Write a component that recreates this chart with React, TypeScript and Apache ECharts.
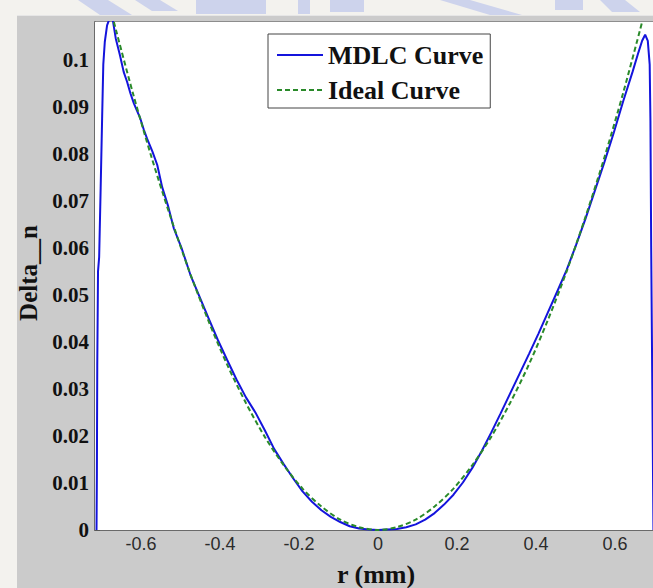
import React, { useEffect, useRef } from "react";
import * as echarts from "echarts";

// ---- data ----
const xTickValues = [-0.6, -0.4, -0.2, 0, 0.2, 0.4, 0.6];

const mdlcR = [
  -0.746, -0.745, -0.744, -0.742, -0.739, -0.735, -0.731, -0.728, -0.724, -0.718,
  -0.711, -0.703, -0.695, -0.684, -0.674, -0.665, -0.656, -0.647, -0.638, -0.63,
  -0.621, -0.612, -0.598, -0.585, -0.572, -0.556, -0.541, -0.52, -0.497, -0.475,
  -0.45, -0.425, -0.4, -0.375, -0.35, -0.325, -0.3, -0.275, -0.25, -0.225,
  -0.2, -0.175, -0.15, -0.125, -0.1, -0.075, -0.05, -0.025, 0, 0.025,
  0.05, 0.075, 0.1, 0.125, 0.15, 0.175, 0.2, 0.225, 0.25, 0.275,
  0.3, 0.325, 0.35, 0.375, 0.4, 0.425, 0.45, 0.475, 0.5, 0.525,
  0.55, 0.575, 0.6, 0.625, 0.65, 0.675, 0.69, 0.7, 0.708, 0.715,
  0.72, 0.722, 0.724, 0.727, 0.73,
];
const mdlcDelta = [
  0, 0.012, 0.035, 0.055, 0.058, 0.0727, 0.088, 0.099, 0.1038, 0.1073,
  0.1088, 0.1085, 0.1045, 0.101, 0.0974, 0.0953, 0.0928, 0.0907, 0.089, 0.0875,
  0.0852, 0.0832, 0.0805, 0.0776, 0.0729, 0.0688, 0.0641, 0.0598, 0.0542, 0.05,
  0.0452, 0.0405, 0.0362, 0.032, 0.0282, 0.025, 0.0212, 0.0172, 0.014, 0.011,
  0.0082, 0.006, 0.0042, 0.0028, 0.0017, 0.0008, 0.0003, 0.0001, 0, 0.0001,
  0.0002, 0.0006, 0.0012, 0.0022, 0.0036, 0.0054, 0.0075, 0.0101, 0.0132, 0.0168,
  0.0207, 0.0248, 0.029, 0.0332, 0.0374, 0.0417, 0.0462, 0.0507, 0.0553, 0.0606,
  0.0662, 0.0722, 0.0782, 0.0845, 0.0912, 0.0975, 0.1015, 0.104, 0.1053, 0.104,
  0.099, 0.087, 0.06, 0.03, 0,
];

const idealR = [
  -0.7, -0.65, -0.6, -0.55, -0.5, -0.45, -0.4, -0.35, -0.3, -0.25,
  -0.2, -0.15, -0.1, -0.05, 0, 0.05, 0.1, 0.15, 0.2, 0.25,
  0.3, 0.35, 0.4, 0.45, 0.5, 0.55, 0.6, 0.65, 0.7,
];
const idealDelta = [
  0.108, 0.093, 0.0792, 0.0666, 0.055, 0.0446, 0.0352, 0.027, 0.0198, 0.0138,
  0.0088, 0.005, 0.0022, 0.0006, 0, 0.0006, 0.0022, 0.005, 0.0088, 0.0138,
  0.0198, 0.027, 0.0352, 0.0446, 0.055, 0.0666, 0.0792, 0.093, 0.108,
];

const seriesNames = ["MDLC Curve", "Ideal Curve"];
const xAxisTitle = "r (mm)";
const yAxisTitle = "Delta__n";

const serif = '"Liberation Serif", "Times New Roman", serif';
const sans = '"Liberation Sans", Arial, sans-serif';

export default function App() {
  const ref = useRef<HTMLDivElement>(null);

  useEffect(() => {
    if (!ref.current) return;
    const chart = echarts.init(ref.current, undefined, { renderer: "svg" });

    const mdlcData = mdlcR.map((r, i) => [r, mdlcDelta[i]]);
    const idealData = idealR.map((r, i) => [r, idealDelta[i]]);

    const wm = "#cdd3ec";
    const option: any = {
      animation: false,
      backgroundColor: "#f3f2ee",
      grid: {
        left: 95,
        top: 22,
        width: 566,
        height: 508,
        outerBoundsMode: "none",
        containLabel: false,
        show: true,
        backgroundColor: "#ffffff",
        borderWidth: 0,
        z: 1,
      },
      graphic: [
        { type: "rect", z: -20, shape: { x: 17, y: 15, width: 660, height: 600 }, style: { fill: "#cbcbcb" } },
        { type: "line", z: -19, shape: { x1: 17, y1: 15.5, x2: 653, y2: 15.5 }, style: { stroke: "#e6e6e6", lineWidth: 1 } },
        { type: "polygon", z: -18, shape: { points: [[78, 0], [108, 0], [132, 15], [100, 15]] }, style: { fill: wm } },
        { type: "polygon", z: -18, shape: { points: [[135, 0], [160, 0], [178, 11], [152, 11]] }, style: { fill: wm } },
        { type: "rect", z: -18, shape: { x: 196, y: 0, width: 70, height: 14 }, style: { fill: wm } },
        { type: "rect", z: -18, shape: { x: 298, y: 0, width: 12, height: 14 }, style: { fill: wm } },
        { type: "rect", z: -18, shape: { x: 330, y: 0, width: 34, height: 12 }, style: { fill: wm } },
        { type: "polygon", z: -18, shape: { points: [[440, 0], [470, 0], [522, 15], [490, 15]] }, style: { fill: wm } },
        { type: "rect", z: -18, shape: { x: 555, y: 0, width: 28, height: 10 }, style: { fill: wm } },
        { type: "polygon", z: -18, shape: { points: [[600, 0], [625, 0], [640, 12], [612, 12]] }, style: { fill: wm } },
        {
          type: "text",
          z: 10,
          x: 28,
          y: 273,
          rotation: Math.PI / 2,
          style: {
            text: yAxisTitle,
            fill: "#111",
            font: `bold 25px ${serif}`,
            textAlign: "center",
            textVerticalAlign: "middle",
          },
        },
        {
          type: "text",
          z: 10,
          x: 376,
          y: 574,
          style: {
            text: xAxisTitle,
            fill: "#111",
            font: `bold 26px ${serif}`,
            textAlign: "center",
            textVerticalAlign: "middle",
          },
        },
      ],
      legend: {
        data: seriesNames,
        orient: "vertical",
        left: 268,
        top: 34,
        padding: [8, 7, 5, 8],
        itemWidth: 46,
        itemHeight: 14,
        itemGap: 9,
        itemStyle: { opacity: 0 },
        backgroundColor: "#ffffff",
        borderColor: "#444444",
        borderWidth: 1,
        textStyle: { fontFamily: serif, fontWeight: "bold", fontSize: 26, color: "#111" },
      },
      xAxis: [
        {
          type: "value",
          min: -0.75,
          max: 0.75,
          position: "bottom",
          axisLine: { show: true, onZero: false, lineStyle: { color: "#6a6a6a", width: 2 } },
          axisTick: { show: true, inside: true, length: 5, customValues: xTickValues, lineStyle: { color: "#555", width: 1.5 } },
          axisLabel: { show: false },
          splitLine: { show: false },
        },
        {
          type: "value",
          min: -0.75,
          max: 0.75,
          position: "top",
          axisLine: { show: true, onZero: false, lineStyle: { color: "#7a7a7a", width: 1.5 } },
          axisTick: { show: true, inside: true, length: 5, customValues: xTickValues, lineStyle: { color: "#555", width: 1.5 } },
          axisLabel: { show: false },
          splitLine: { show: false },
        },
        {
          type: "value",
          min: -0.7165,
          max: 0.7165,
          position: "bottom",
          axisLine: { show: false, onZero: false },
          axisTick: { show: false },
          splitLine: { show: false },
          axisLabel: {
            show: true,
            customValues: xTickValues,
            margin: 5,
            fontFamily: sans,
            fontSize: 18,
            color: "#2b2b2b",
            formatter: (v: number) => String(+v.toFixed(1)),
          },
        },
      ],
      yAxis: [
        {
          type: "value",
          min: 0,
          max: 0.108,
          interval: 0.01,
          position: "left",
          axisLine: { show: true, onZero: false, lineStyle: { color: "#6a6a6a", width: 2 } },
          axisTick: { show: true, inside: true, length: 5, lineStyle: { color: "#555", width: 1.5 } },
          axisLabel: {
            margin: 6,
            showMaxLabel: false,
            fontFamily: serif,
            fontWeight: "bold",
            fontSize: 21,
            color: "#111",
            formatter: (v: number) => {
              const r = Math.round(v * 100);
              if (Math.abs(v * 100 - r) > 1e-6) return "";
              return String(+(r / 100).toFixed(2));
            },
          },
          splitLine: { show: false },
        },
      ],
      series: [
        {
          name: seriesNames[0],
          type: "line",
          xAxisIndex: 0,
          yAxisIndex: 0,
          data: mdlcData,
          symbol: "none",
          clip: true,
          z: 3,
          lineStyle: { color: "#1414dc", width: 2 },
          itemStyle: { color: "#1414dc" },
        },
        {
          name: seriesNames[1],
          type: "line",
          xAxisIndex: 0,
          yAxisIndex: 0,
          data: idealData,
          symbol: "none",
          smooth: 0.3,
          clip: true,
          z: 4,
          lineStyle: { color: "#2a8a2a", width: 2, type: [5, 3] },
          itemStyle: { color: "#2a8a2a" },
        },
      ],
    };

    chart.setOption(option);
    return () => chart.dispose();
  }, []);

  return (
    <div
      ref={ref}
      style={{ position: "fixed", left: 0, top: 0, width: 653, height: 588 }}
    />
  );
}
